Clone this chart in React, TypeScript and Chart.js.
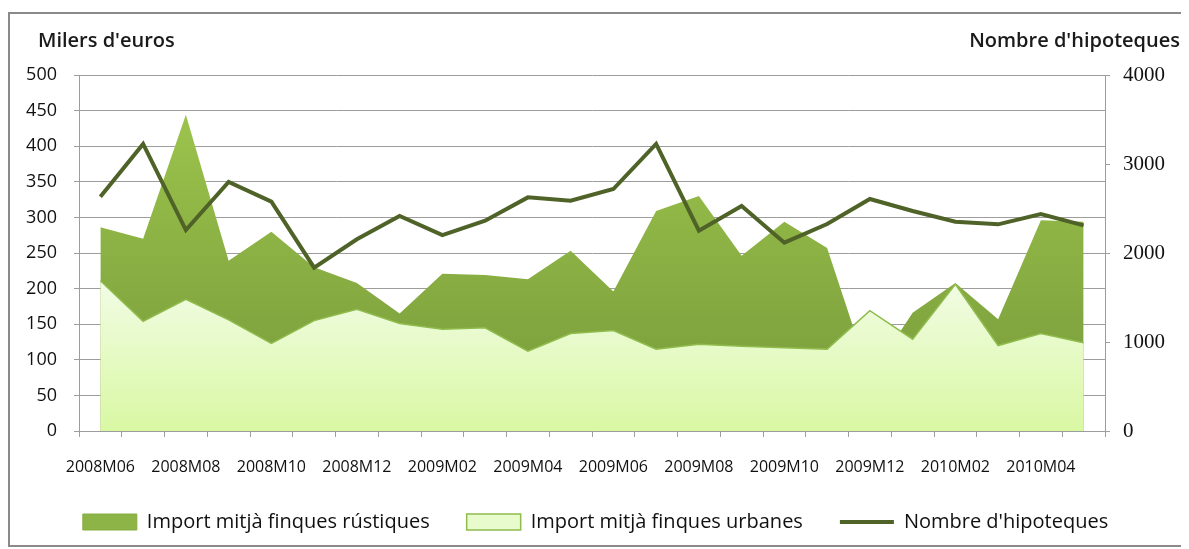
import React, { useEffect, useRef } from 'react';
import { Chart, registerables } from 'chart.js';

Chart.register(...registerables);

if (typeof document !== 'undefined') {
  document.documentElement.style.overflow = 'hidden';
  document.body.style.overflow = 'hidden';
}

const categories = [
  '2008M06', '2008M07', '2008M08', '2008M09', '2008M10', '2008M11', '2008M12',
  '2009M01', '2009M02', '2009M03', '2009M04', '2009M05', '2009M06', '2009M07',
  '2009M08', '2009M09', '2009M10', '2009M11', '2009M12', '2010M01', '2010M02',
  '2010M03', '2010M04', '2010M05',
];

const rustiques = [286, 270, 444, 239, 280, 230, 208, 165, 221, 219, 213, 253, 196, 309, 330, 246, 294, 257, 75, 166, 208, 157, 296, 294];
const urbanes = [211, 154, 185, 156, 123, 155, 171, 151, 143, 145, 112, 137, 141, 115, 122, 119, 117, 115, 169, 129, 206, 120, 137, 124];
const hipoteques = [2633, 3225, 2258, 2798, 2577, 1835, 2154, 2416, 2202, 2363, 2625, 2588, 2719, 3225, 2251, 2528, 2116, 2326, 2607, 2472, 2352, 2322, 2438, 2311];

const seriesNames = ['Import mitjà finques rústiques', 'Import mitjà finques urbanes', "Nombre d'hipoteques"];
const leftAxisTitle = "Milers d'euros";
const rightAxisTitle = "Nombre d'hipoteques";

const FONT = '"Open Sans", "Liberation Sans", sans-serif';
const GRID = '#9d9d9d';

export default function App() {
  const ref = useRef<HTMLCanvasElement | null>(null);

  useEffect(() => {
    if (!ref.current) return;

    const rusticFill = (ctx: any) => {
      const chart = ctx.chart;
      const y = chart.scales?.y;
      if (!chart.chartArea || !y) return '#8db446';
      const g = chart.ctx.createLinearGradient(0, y.getPixelForValue(450), 0, y.getPixelForValue(0));
      g.addColorStop(0, '#9cc44c');
      g.addColorStop(1, '#76983a');
      return g;
    };
    const urbanFill = (ctx: any) => {
      const chart = ctx.chart;
      const y = chart.scales?.y;
      if (!chart.chartArea || !y) return '#e6f9c8';
      const g = chart.ctx.createLinearGradient(0, y.getPixelForValue(215), 0, y.getPixelForValue(0));
      g.addColorStop(0, '#f2fce6');
      g.addColorStop(1, '#d9f8a3');
      return g;
    };

    const titlesPlugin = {
      id: 'axisTitles',
      afterDraw(chart: any) {
        const c = chart.ctx;
        c.save();
        c.font = `600 20px ${FONT}`;
        c.fillStyle = '#1a1a1a';
        c.textBaseline = 'middle';
        c.textAlign = 'left';
        c.fillText(leftAxisTitle, 28, 27);
        c.textAlign = 'right';
        c.fillText(rightAxisTitle, 1170, 27);
        c.restore();
      },
    };

    const chart = new Chart(ref.current, {
      type: 'line',
      data: {
        labels: categories,
        datasets: [
          {
            label: seriesNames[0],
            data: rustiques,
            yAxisID: 'y',
            order: 2,
            fill: 'origin',
            backgroundColor: rusticFill,
            borderWidth: 0,
            borderColor: 'rgba(0,0,0,0)',
            pointRadius: 0,
            pointStyle: 'rect',
            tension: 0,
          },
          {
            label: seriesNames[1],
            data: urbanes,
            yAxisID: 'y',
            order: 1,
            fill: 'origin',
            backgroundColor: urbanFill,
            borderWidth: 1.5,
            borderColor: '#8fbc4c',
            pointRadius: 0,
            pointStyle: 'rect',
            tension: 0,
          },
          {
            label: seriesNames[2],
            data: hipoteques,
            yAxisID: 'y2',
            order: 0,
            fill: false,
            borderColor: '#4f6228',
            backgroundColor: '#4f6228',
            borderWidth: 4,
            pointRadius: 0,
            pointStyle: 'line',
            tension: 0,
          },
        ],
      },
      options: {
        responsive: false,
        maintainAspectRatio: false,
        animation: false,
        layout: { padding: { top: 61, bottom: 3, left: 0, right: 0 } },
        plugins: {
          tooltip: { enabled: false },
          title: { display: false },
          legend: {
            position: 'bottom',
            labels: {
              usePointStyle: true,
              pointStyleWidth: 54,
              boxHeight: 16,
              padding: 37,
              color: '#111',
              font: { family: FONT, size: 20 },
              sort: (a: any, b: any) => a.datasetIndex - b.datasetIndex,
              generateLabels: (ch: any) => {
                const items = Chart.defaults.plugins.legend.labels.generateLabels(ch);
                return items.map((it: any) => {
                  const d = it.datasetIndex;
                  if (d === 0) return { ...it, pointStyle: 'rect', fillStyle: '#8db446', strokeStyle: '#86ad42', lineWidth: 1 };
                  if (d === 1) return { ...it, pointStyle: 'rect', fillStyle: '#e8fbcd', strokeStyle: '#8fbc4c', lineWidth: 1.5 };
                  return { ...it, pointStyle: 'line', strokeStyle: '#4f6228', lineWidth: 4, lineCap: 'butt' };
                });
              },
            },
          },
        },
        scales: {
          x: {
            type: 'category',
            offset: true,
            grid: {
              offset: true,
              drawOnChartArea: false,
              drawTicks: true,
              tickLength: 6,
              color: GRID,
            },
            border: { color: GRID, width: 1 },
            ticks: {
              autoSkip: false,
              maxRotation: 0,
              minRotation: 0,
              padding: 21,
              color: '#111',
              font: { family: FONT, size: 16 },
              callback: (_v: any, i: number) => (i % 2 === 0 ? categories[i] : ''),
            },
            afterFit: (s: any) => { s.height = 44; },
          },
          y: {
            position: 'left',
            min: 0,
            max: 500,
            grid: { color: GRID, tickLength: 5, lineWidth: 1 },
            border: { color: GRID, width: 1 },
            ticks: {
              stepSize: 50,
              padding: 17,
              color: '#111',
              font: { family: FONT, size: 18 },
              callback: (v: any) => String(v),
            },
            afterFit: (s: any) => { s.width = 69; },
          },
          y2: {
            position: 'right',
            min: 0,
            max: 4000,
            grid: { drawOnChartArea: false, color: GRID, tickLength: 5 },
            border: { color: GRID, width: 1 },
            ticks: {
              stepSize: 1000,
              padding: 13,
              color: '#111',
              font: { family: '"Liberation Serif", serif', size: 21 },
              callback: (v: any) => String(v),
            },
            afterFit: (s: any) => { s.width = 76; },
          },
        },
      },
      plugins: [titlesPlugin],
    });

    return () => chart.destroy();
  }, []);

  return (
    <div
      style={{
        marginTop: 4,
        width: 1175,
        height: 535,
        border: '2px solid #8a8a8a',
        boxSizing: 'border-box',
        position: 'relative',
        background: '#fff',
      }}
    >
      <canvas ref={ref} width={1171} height={531} style={{ display: 'block' }} />
    </div>
  );
}
